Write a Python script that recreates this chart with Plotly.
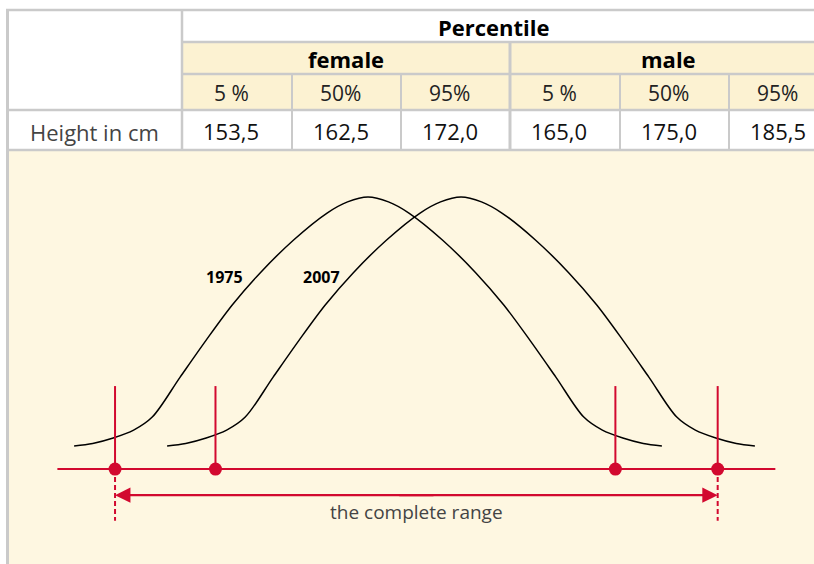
import plotly.graph_objects as go

# table content
groups = ['female', 'male']
percentiles = ['5 %', '50%', '95%', '5 %', '50%', '95%']
heights_cm = [153.5, 162.5, 172.0, 165.0, 175.0, 185.5]

# schematic distribution curves (x in cm, y relative frequency)
curve_1975_x = [149.2, 150.2, 151.3, 152.4, 153.4, 154.9, 156.3, 157.7, 159.2, 161.0,
                162.8, 163.9, 165.0, 166.1, 167.2, 169.0, 170.8, 172.3, 173.7, 175.1,
                176.6, 177.6, 178.7, 179.8, 180.8]
curve_1975_y = [0.085, 0.094, 0.114, 0.143, 0.191, 0.338, 0.474, 0.603, 0.721, 0.842,
                0.941, 0.982, 1.0, 0.982, 0.941, 0.842, 0.721, 0.603, 0.474, 0.338,
                0.191, 0.143, 0.114, 0.094, 0.085]
curve_2007_x = [154.2, 155.2, 156.3, 157.4, 158.4, 159.9, 161.3, 162.7, 164.2, 166.0,
                167.8, 168.9, 170.0, 171.1, 172.2, 174.0, 175.8, 177.3, 178.7, 180.1,
                181.6, 182.6, 183.7, 184.8, 185.8]
curve_2007_y = [0.085, 0.094, 0.114, 0.143, 0.191, 0.338, 0.474, 0.603, 0.721, 0.842,
                0.941, 0.982, 1.0, 0.982, 0.941, 0.842, 0.721, 0.603, 0.474, 0.338,
                0.191, 0.143, 0.114, 0.094, 0.085]

# 5th / 95th percentile marks of both curves
marks_cm = [151.4, 156.8, 178.3, 183.8]
axis_span = [148.3, 186.9]

RED = '#d2092f'
GRID = '#cacaca'
HEAD = '#fcf2d2'
PANEL = '#fef7e1'
FONT = 'Open Sans'

W, H = 814, 564


def fx(px):
    return px / W


def fy(py):
    return 1 - py / H


def label(fig, x, y, text, size, color='black', ref='paper'):
    fig.add_annotation(x=x, y=y, xref=ref, yref=ref if ref == 'paper' else 'y',
                       text=text, showarrow=False, xanchor='center', yanchor='middle',
                       font=dict(family=FONT, size=size, color=color))


col_edges = [182, 292, 401, 510, 620, 729, 838]

fig = go.Figure()

for xs, ys in [(curve_1975_x, curve_1975_y), (curve_2007_x, curve_2007_y)]:
    fig.add_trace(go.Scatter(x=xs, y=ys, mode='lines',
                             line=dict(color='black', width=1.5, shape='spline', smoothing=0.9),
                             hoverinfo='skip'))

# red base axis
fig.add_trace(go.Scatter(x=axis_span, y=[0, 0], mode='lines',
                         line=dict(color=RED, width=2), hoverinfo='skip'))

# vertical ticks above the axis
tick_x, tick_y = [], []
for m in marks_cm:
    tick_x += [m, m, None]
    tick_y += [0, 0.305, None]
fig.add_trace(go.Scatter(x=tick_x, y=tick_y, mode='lines',
                         line=dict(color=RED, width=2), hoverinfo='skip'))

# dashed extension at the outer marks
dash_x, dash_y = [], []
for m in [marks_cm[0], marks_cm[-1]]:
    dash_x += [m, m, None]
    dash_y += [0, -0.19, None]
fig.add_trace(go.Scatter(x=dash_x, y=dash_y, mode='lines',
                         line=dict(color=RED, width=2, dash='5px,3px'), hoverinfo='skip'))

fig.add_trace(go.Scatter(x=marks_cm, y=[0] * len(marks_cm), mode='markers',
                         marker=dict(color=RED, size=13), hoverinfo='skip'))

# double arrow for the complete range
mid = (marks_cm[0] + marks_cm[-1]) / 2
for end, tail in [(marks_cm[0], mid + 1), (marks_cm[-1], mid - 1)]:
    fig.add_annotation(x=end, y=-0.096, ax=tail, ay=-0.096, xref='x', yref='y',
                       axref='x', ayref='y', text='', showarrow=True,
                       arrowhead=2, arrowsize=1.4, arrowwidth=2.2, arrowcolor=RED,
                       standoff=0)

label(fig, mid, -0.158, 'the complete range', 19, '#444', ref='x')
label(fig, 157.3, 0.706, '<b>1975</b>', 16, ref='x')
label(fig, 162.5, 0.706, '<b>2007</b>', 16, ref='x')

# table background and lines
shapes = [
    dict(type='rect', x0=fx(7), x1=1, y0=fy(564), y1=fy(150), fillcolor=PANEL, line_width=0),
    dict(type='rect', x0=fx(182), x1=1, y0=fy(110), y1=fy(42), fillcolor=HEAD, line_width=0),
]
for y, x0 in [(10, 6), (42, 182), (74, 182), (110, 6), (150, 6)]:
    shapes.append(dict(type='line', x0=fx(x0), x1=1, y0=fy(y), y1=fy(y),
                       line=dict(color=GRID, width=2.5)))
shapes.append(dict(type='line', x0=fx(7.5), x1=fx(7.5), y0=fy(9), y1=0,
                   line=dict(color=GRID, width=3)))
shapes.append(dict(type='line', x0=fx(182), x1=fx(182), y0=fy(10), y1=fy(150),
                   line=dict(color=GRID, width=2.5)))
shapes.append(dict(type='line', x0=fx(510), x1=fx(510), y0=fy(42), y1=fy(150),
                   line=dict(color=GRID, width=3)))
for x in [292, 401, 620, 729]:
    shapes.append(dict(type='line', x0=fx(x), x1=fx(x), y0=fy(74), y1=fy(150),
                       line=dict(color=GRID, width=2)))
for s in shapes:
    s.update(xref='paper', yref='paper', layer='below')

# table text
label(fig, fx(494), fy(27), '<b>Percentile</b>', 22)
for g, cx in zip(groups, [346, 668]):
    label(fig, fx(cx), fy(59), f'<b>{g}</b>', 22)
label(fig, fx(94), fy(132), 'Height in cm', 22, '#444')
for i, (p, v) in enumerate(zip(percentiles, heights_cm)):
    cx = (col_edges[i] + col_edges[i + 1]) / 2 - 6
    label(fig, fx(cx), fy(93), p, 21, '#222')
    label(fig, fx(cx), fy(131), f'{v:.1f}'.replace('.', ','), 22, '#111')

fig.update_layout(
    width=W, height=H,
    margin=dict(l=0, r=0, t=0, b=0),
    paper_bgcolor='white',
    plot_bgcolor='rgba(0,0,0,0)',
    showlegend=False,
    shapes=shapes,
    xaxis=dict(range=[145.215, 188.978], visible=False, fixedrange=True),
    yaxis=dict(range=[-0.349, 1.724], visible=False, fixedrange=True),
)

fig.write_html('out.html', config={'displayModeBar': False},
               post_script="document.body.style.margin='0';document.body.style.overflow='hidden';")
